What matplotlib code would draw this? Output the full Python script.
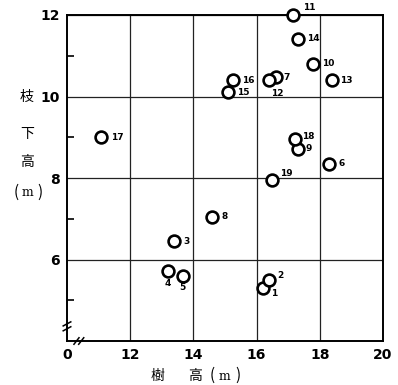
import matplotlib
matplotlib.use("Agg")
import matplotlib.pyplot as plt

# ---- data ----
point_ids = [str(i) for i in range(1, 20)]
tree_height = [16.2, 16.4, 13.4, 13.2, 13.66, 18.3, 16.6, 14.6, 17.3, 17.8,
               17.16, 16.4, 18.4, 17.3, 15.1, 15.25, 11.09, 17.2, 16.5]
branch_height = [5.3, 5.5, 6.45, 5.73, 5.6, 8.35, 10.47, 7.05, 8.72, 10.8,
                 12.0, 10.4, 10.4, 11.42, 10.1, 10.4, 9.0, 8.95, 7.95]
x_ticks = [10, 12, 14, 16, 18, 20]
x_tick_labels = ["0", "12", "14", "16", "18", "20"]
y_ticks = [6, 8, 10, 12]
y_tick_labels = ["6", "8", "10", "12"]
y_minor = [5, 7, 9, 11]

# label offsets in pixels (dx, dy screen-down), alignment
label_style = {
    "1": (8, 5, "left"), "2": (8, -4, "left"), "3": (9, 0, "left"),
    "4": (0, 13, "center"), "5": (0, 12, "center"), "6": (9, 0, "left"),
    "7": (8, 0, "left"), "8": (9, 0, "left"), "9": (8, 0, "left"),
    "10": (9, 0, "left"), "11": (10, -8, "left"), "12": (8, 13, "center"),
    "13": (8, 0, "left"), "14": (9, 0, "left"), "15": (9, 0, "left"),
    "16": (9, 0, "left"), "17": (10, 0, "left"), "18": (8, -3, "left"),
    "19": (8, -7, "left"),
}

W, H = 398, 385
fig = plt.figure(figsize=(W / 100, H / 100), dpi=100)
L, R, T, B = 67, 383, 15, 341
ax = fig.add_axes([L / W, 1 - B / H, (R - L) / W, (B - T) / H])
ax.set_xlim(10, 20)
ax.set_ylim(4, 12)

for x in x_ticks[1:]:
    ax.axvline(x, color="#222222", lw=0.9, zorder=1)
for y in y_ticks:
    ax.axhline(y, color="#222222", lw=0.9, zorder=1)

for s in ax.spines.values():
    s.set_linewidth(1.4)
    s.set_color("black")

ax.set_xticks(x_ticks)
ax.set_xticklabels(x_tick_labels, fontsize=10, fontweight="bold")
ax.set_yticks(y_ticks)
ax.set_yticklabels(y_tick_labels, fontsize=10, fontweight="bold")
ax.set_yticks(y_minor, minor=True)
ax.tick_params(axis="both", which="major", length=0, pad=5)
ax.tick_params(axis="y", which="minor", direction="in", length=5, width=1.2)

ax.plot(tree_height, branch_height, "o", ms=8.5, mfc="white", mec="black",
        mew=1.9, zorder=3, clip_on=False)

for pid, x, y in zip(point_ids, tree_height, branch_height):
    dx, dy, ha = label_style[pid]
    ax.annotate(pid, (x, y), xytext=(dx, -dy), textcoords="offset pixels",
                ha=ha, va="center", fontsize=6.5, fontweight="bold",
                zorder=4, annotation_clip=False)

# axis break marks
for bx in (10.3, 10.45):
    ax.plot([bx - 0.08, bx + 0.08], [4 - 0.08, 4 + 0.08], color="black",
            lw=1.1, clip_on=False, zorder=5)
for by in (4.3, 4.42):
    ax.plot([10 - 0.12, 10 + 0.12], [by - 0.05, by + 0.05], color="black",
            lw=1.1, clip_on=False, zorder=5)

cjk = ["Noto Sans CJK JP", "DejaVu Sans"]
serif = ["DejaVu Serif"]


def put(px, py, s, size=10, fam=cjk):
    fig.text(px / W, 1 - py / H, s, ha="center", va="center",
             fontsize=size, family=fam)


# y label (stacked)
put(27, 97, "枝")
put(27, 134, "下")
put(27, 162, "高")
put(16, 192, "(", 11)
put(27, 193, "m", 9, serif)
put(40, 192, ")", 11)

# x label
put(157, 376, "樹")
put(195, 376, "高")
put(212, 375, "(", 11)
put(224, 376, "m", 9, serif)
put(238, 375, ")", 11)

fig.savefig("out.png", dpi=100)
